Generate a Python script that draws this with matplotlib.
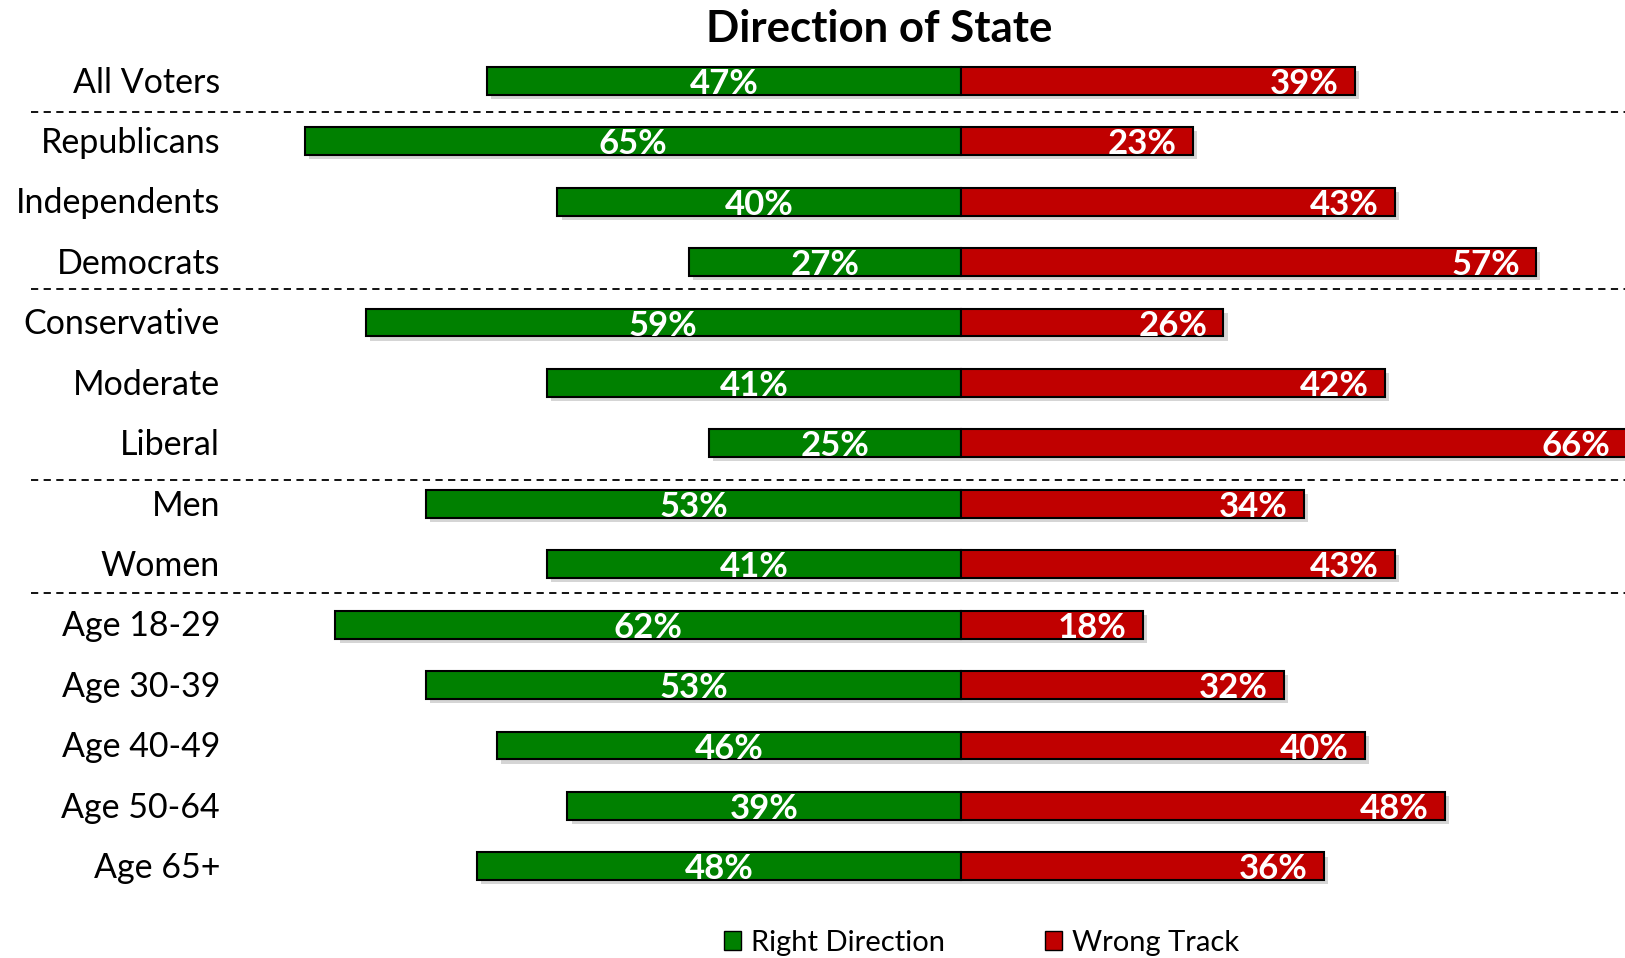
import numpy as np
import matplotlib
matplotlib.use('Agg')
import matplotlib.pyplot as plt
import matplotlib.patheffects as pe
from matplotlib.patches import Patch

# ── data ──────────────────────────────────────────────────────────────────────
groups = ['All Voters', 'Republicans', 'Independents', 'Democrats',
          'Conservative', 'Moderate', 'Liberal', 'Men', 'Women',
          'Age 18-29', 'Age 30-39', 'Age 40-49', 'Age 50-64', 'Age 65+']
right_direction = [47, 65, 40, 27, 59, 41, 25, 53, 41, 62, 53, 46, 39, 48]
wrong_track     = [39, 23, 43, 57, 26, 42, 66, 34, 43, 18, 32, 40, 48, 36]
separators = [0.51, 3.45, 6.61, 8.47]   # dashed lines between blocks

GREEN = '#008000'
RED = '#C00000'
FONT = ['Lato', 'DejaVu Sans']
plt.rcParams['font.family'] = FONT

W, H = 1625, 958
fig = plt.figure(figsize=(W / 100, H / 100), dpi=100)
ax = fig.add_axes([0, 0, 1, 1])

# pixel geometry: centre line at x=961, 10.09 px per %, rows 60.43 px apart
px_per = 10.09
ax.set_xlim(-961 / px_per, (W - 961) / px_per)
row0, row_h = 80.8, 60.43
ax.set_ylim((H - row0) / row_h, -row0 / row_h)
ax.axis('off')

y = np.arange(len(groups))
shadow = [pe.SimplePatchShadow(offset=(3, -3), shadow_rgbFace='#888888', alpha=0.35),
          pe.Normal()]
gb = ax.barh(y, [-v for v in right_direction], height=0.46, color=GREEN,
             edgecolor='black', linewidth=1.5)
rb = ax.barh(y, wrong_track, height=0.46, color=RED,
             edgecolor='black', linewidth=1.5)
for b in list(gb) + list(rb):
    b.set_path_effects(shadow)

for i, (g, r) in enumerate(zip(right_direction, wrong_track)):
    ax.text(-g / 2, i + 0.05, f'{g}%', ha='center', va='center',
            color='white', fontsize=25, fontweight='bold')
    ax.text(r - 1.6, i + 0.05, f'{r}%', ha='right', va='center',
            color='white', fontsize=25, fontweight='bold')
    ax.text((220 - 961) / px_per, i + 0.03, groups[i], ha='right', va='center',
            fontsize=24.5, color='black')

for s in separators:
    ax.plot([(31 - 961) / px_per, (W - 961) / px_per], [s, s], color='black',
            lw=1.3, ls=(0, (4, 3)), clip_on=False)

fig.text(879 / W, 1 - 29 / H, 'Direction of State', ha='center', va='center',
         fontsize=31.5, fontweight='bold')

handles = [Patch(facecolor=GREEN, edgecolor='black', label='Right Direction'),
           Patch(facecolor=RED, edgecolor='black', label='Wrong Track')]
fig.legend(handles=handles, loc='center', bbox_to_anchor=(0.604, 0.016), ncol=2,
           frameon=False, fontsize=21, handlelength=0.6, handleheight=0.6,
           handletextpad=0.35, columnspacing=3.4)

fig.savefig('out.png', dpi=100)
